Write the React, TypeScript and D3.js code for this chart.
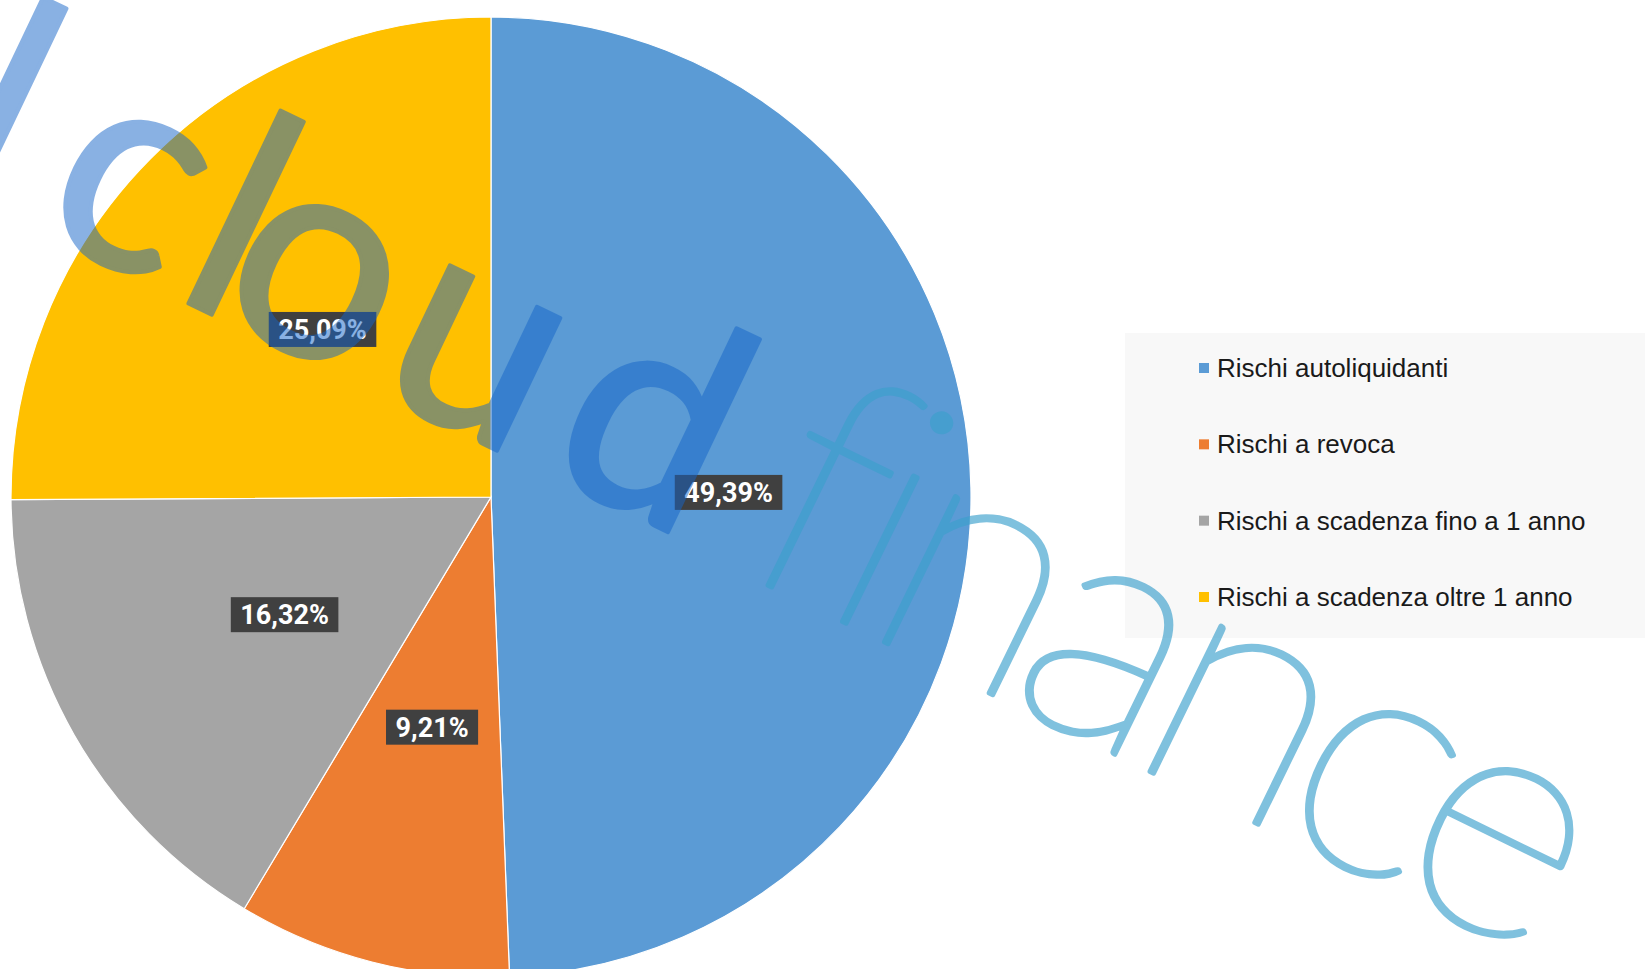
import React, { useEffect, useRef } from "react";
import * as d3 from "d3";

// share of total credit lines (%)
const categories = [
  "Rischi autoliquidanti",
  "Rischi a revoca",
  "Rischi a scadenza fino a 1 anno",
  "Rischi a scadenza oltre 1 anno",
];
const shares = [49.39, 9.21, 16.32, 25.09];
const colors = ["#5B9BD5", "#ED7D31", "#A5A5A5", "#FFC000"];

const width = 1645;
const height = 969;

// watermark letters with a nudge along the baseline
const markLetters = ["l", "c", "l", "o", "u", "d"];
const markNudge = [-30, 30, 0, -38, 1, 14];

const App = () => {
  const svgRef = useRef<SVGSVGElement>(null);

  useEffect(() => {
    document.body.style.margin = "0";
    const svg = d3.select(svgRef.current);
    svg.selectAll("*").remove();

    const cx = 491;
    const cy = 497;
    const radius = 480;

    const pie = d3.pie<number>().sort(null).value(d => d);
    const arcs = pie(shares);
    const arc = d3.arc<d3.PieArcDatum<number>>().innerRadius(0).outerRadius(radius);
    const labelArc = d3.arc<d3.PieArcDatum<number>>().innerRadius(0).outerRadius(radius * 0.99);
    const fmt = (v: number) => d3.format(".2f")(v).replace(".", ",") + "%";

    const g = svg.append("g").attr("transform", `translate(${cx},${cy})`);

    g.selectAll("path")
      .data(arcs)
      .enter()
      .append("path")
      .attr("d", arc)
      .attr("fill", (d, i) => colors[i])
      .attr("stroke", "#ffffff")
      .attr("stroke-width", 1.2);

    // data labels in dark boxes
    const labels = g
      .selectAll("g.lbl")
      .data(arcs)
      .enter()
      .append("g")
      .attr("class", "lbl")
      .attr("transform", d => `translate(${labelArc.centroid(d)})`);

    labels.append("rect").attr("fill", "#404040");

    labels
      .append("text")
      .attr("text-anchor", "middle")
      .attr("dy", "0.36em")
      .attr("fill", "#ffffff")
      .style("font-family", "Roboto, 'Liberation Sans', sans-serif")
      .style("font-weight", 700)
      .style("font-size", "27px")
      .text(d => fmt(d.data));

    labels.each(function () {
      const node = d3.select(this);
      const t = node.select("text").node() as SVGTextElement;
      const w = t.getComputedTextLength() + 19;
      node.select("rect")
        .attr("x", -w / 2)
        .attr("y", -17.5)
        .attr("width", w)
        .attr("height", 35);
    });

    // legend
    const legend = svg.append("g");
    legend
      .append("rect")
      .attr("x", 1125)
      .attr("y", 333)
      .attr("width", width - 1125)
      .attr("height", 305)
      .attr("fill", "#f8f8f8");

    const rowY = d3.scalePoint<string>().domain(categories).range([368, 597]);

    const items = legend
      .selectAll("g.item")
      .data(categories)
      .enter()
      .append("g")
      .attr("transform", d => `translate(1199,${rowY(d)})`);

    items
      .append("rect")
      .attr("x", 0)
      .attr("y", -5)
      .attr("width", 10)
      .attr("height", 10)
      .attr("fill", (d, i) => colors[i]);

    items
      .append("text")
      .attr("x", 18)
      .attr("dy", "0.35em")
      .attr("fill", "#1a1a1a")
      .style("font-family", "'Liberation Sans', Arial, sans-serif")
      .style("font-size", "26px")
      .text(d => d);

    // watermark on top of everything
    const cloud = svg
      .append("text")
      .attr("transform", "translate(-41,194) rotate(25.5)")
      .attr("fill", "rgb(21,101,201)")
      .attr("stroke", "rgb(21,101,201)")
      .attr("stroke-width", 4)
      .attr("stroke-linejoin", "round")
      .attr("opacity", 0.5)
      .style("font-family", "Lato, sans-serif")
      .style("font-weight", 400)
      .style("font-size", "290px")
      .style("letter-spacing", "13px");

    cloud
      .selectAll("tspan")
      .data(markLetters)
      .enter()
      .append("tspan")
      .attr("dx", (d, i) => markNudge[i])
      .text(d => d);

    svg
      .append("text")
      .attr("transform", "translate(733,568) rotate(26)")
      .attr("fill", "rgb(60,160,205)")
      .attr("stroke", "rgb(60,160,205)")
      .attr("stroke-width", 5)
      .attr("stroke-linejoin", "round")
      .attr("opacity", 0.65)
      .style("font-family", "Lato, sans-serif")
      .style("font-weight", 200)
      .style("font-size", "330px")
      .style("letter-spacing", "-20px")
      .text("finance");
  }, []);

  return (
    <div style={{ position: "absolute", left: 0, top: 0 }}>
      <svg ref={svgRef} width={width} height={height} style={{ display: "block", background: "#ffffff" }} />
    </div>
  );
};

export default App;
